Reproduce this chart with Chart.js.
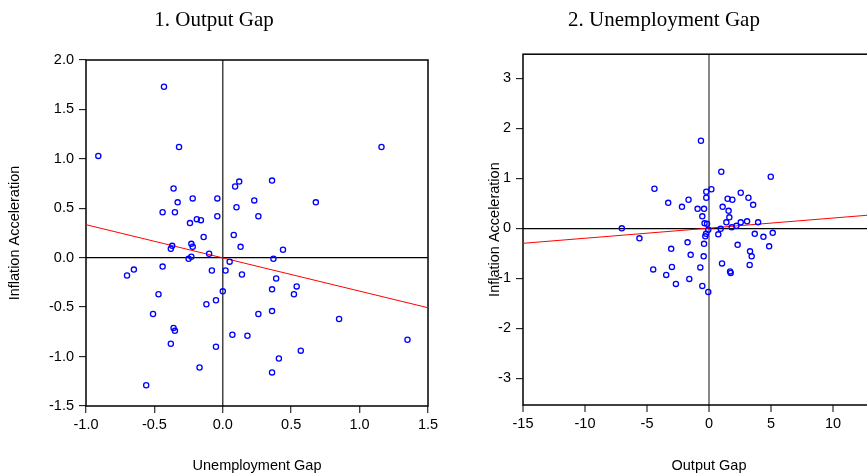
<!DOCTYPE html>
<html>
<head>
<meta charset="utf-8">
<script src="https://cdn.jsdelivr.net/npm/chart.js@4"></script>
<style>
  body { margin: 0; background: #fff; overflow: hidden; width: 867px; height: 476px; position: relative; }
  canvas { position: absolute; top: 0; }
  #left { left: 0; }
  #right { left: 433px; }
</style>
</head>
<body>
<canvas id="left" width="443" height="476"></canvas>
<canvas id="right" width="470" height="476"></canvas>
<script>
// panel 1: unemployment gap vs inflation acceleration
const unempGap = [-0.43, -0.32, -0.91, 1.16, -0.36, 0.12, 0.09, 0.36, -0.33, -0.22, -0.04, 0.23, 0.68, -0.44, -0.35, 0.10,
  -0.19, -0.16, -0.04, 0.26, -0.24, -0.14, 0.08, -0.23, -0.22, -0.37, -0.38, 0.13, 0.44, -0.10, -0.23, -0.25, 0.37, 0.05,
  -0.65, -0.70, -0.44, -0.08, 0.02, 0.14, 0.39, 0.54, 0.36, 0.00, -0.47, 0.52, -0.05, -0.12, -0.51, 0.26, 0.36, 0.85,
  -0.36, -0.35, 0.07, 0.18, 1.35, -0.38, -0.05, 0.57, 0.41, -0.17, 0.36, -0.56];
const inflAccel1 = [1.73, 1.12, 1.03, 1.12, 0.70, 0.77, 0.72, 0.78, 0.56, 0.60, 0.60, 0.58, 0.56, 0.46, 0.46, 0.51,
  0.39, 0.38, 0.42, 0.42, 0.35, 0.21, 0.23, 0.14, 0.11, 0.12, 0.09, 0.11, 0.08, 0.04, 0.01, -0.01, -0.01, -0.04,
  -0.12, -0.18, -0.09, -0.13, -0.13, -0.17, -0.21, -0.29, -0.32, -0.34, -0.37, -0.37, -0.43, -0.47, -0.57, -0.57, -0.54, -0.62,
  -0.71, -0.74, -0.78, -0.79, -0.83, -0.87, -0.90, -0.94, -1.02, -1.11, -1.16, -1.29];
const fit1X = [-1.0, 1.5];
const fit1Y = [0.334, -0.506];

// panel 2: output gap vs inflation acceleration
const outputGap = [-0.65, 0.99, 4.98, -4.40, 0.19, -0.22, -0.22, 2.56, 1.50, 1.88, 3.18, -3.29, -1.65, -2.18, 3.56, -0.92,
  -0.40, 1.10, 1.58, -0.54, 1.64, -0.36, -0.16, 1.40, 2.56, 3.07, 3.96, 2.21, 1.83, 0.94, -7.03, -0.06, -5.61, -0.24,
  -0.30, 0.75, 3.69, 4.39, 5.14, -1.73, -0.40, 2.31, -3.05, 3.31, 4.85, -1.48, -0.43, 3.44, 1.05, 3.28, -4.50, -2.99,
  -0.70, 1.70, 1.75, -3.45, -1.59, -2.67, -0.54, -0.06];
const inflAccel2 = [1.75, 1.13, 1.03, 0.79, 0.78, 0.73, 0.61, 0.71, 0.59, 0.57, 0.61, 0.51, 0.57, 0.43, 0.47, 0.39,
  0.39, 0.43, 0.35, 0.24, 0.22, 0.10, 0.09, 0.12, 0.12, 0.14, 0.12, 0.05, 0.02, -0.01, 0.00, -0.03, -0.20, -0.11,
  -0.16, -0.12, -0.11, -0.17, -0.09, -0.28, -0.31, -0.33, -0.41, -0.46, -0.36, -0.53, -0.56, -0.56, -0.70, -0.73, -0.82, -0.77,
  -0.78, -0.86, -0.89, -0.93, -1.01, -1.11, -1.15, -1.27];
const fit2X = [-15, 15];
const fit2Y = [-0.299, 0.307];

const zip = (xs, ys) => xs.map((x, i) => ({ x: x, y: ys[i] }));

const frame = {
  id: 'frame',
  beforeDatasetsDraw(chart) {
    const a = chart.chartArea, c = chart.ctx;
    c.save();
    c.strokeStyle = '#000';
    c.lineWidth = 1.5;
    c.strokeRect(a.left, a.top, a.right - a.left, a.bottom - a.top);
    c.restore();
  }
};

function makeChart(id, o) {
  const tickFont = { family: 'Liberation Sans, Arial', size: 14.5 };
  const titleFont = { family: 'Liberation Sans, Arial', size: 14.5 };
  return new Chart(document.getElementById(id), {
    type: 'scatter',
    data: {
      datasets: [{
        data: o.points,
        pointStyle: 'circle',
        pointRadius: 2.6,
        pointBorderWidth: 1.3,
        pointBorderColor: '#0000ff',
        pointBackgroundColor: 'rgba(255,255,255,0)',
        pointHoverRadius: 2.6
      }, {
        data: o.fit,
        showLine: true,
        borderColor: '#ff0000',
        borderWidth: 1,
        pointRadius: 0
      }]
    },
    options: {
      responsive: false,
      animation: false,
      events: [],
      layout: { padding: { left: 0, right: o.padRight, top: 0, bottom: 0 } },
      plugins: {
        legend: { display: false },
        tooltip: { enabled: false },
        title: {
          display: true,
          text: o.title,
          color: '#000',
          font: { family: 'Liberation Serif, Times New Roman', size: 21, weight: 'normal' },
          padding: { top: 8, bottom: o.titleGap }
        }
      },
      scales: {
        x: {
          type: 'linear',
          min: o.xMin, max: o.xMax,
          afterFit: s => { s.height = o.xHeight; s.paddingLeft = 0; s.paddingRight = 0; },
          border: { display: false },
          grid: {
            color: c => c.tick && c.tick.value === 0 ? o.vZeroColor : 'rgba(0,0,0,0)',
            lineWidth: o.vZeroWidth,
            tickColor: '#000',
            tickLength: 7,
            tickWidth: 1
          },
          ticks: {
            stepSize: o.xStep,
            includeBounds: false,
            color: '#000',
            font: tickFont,
            padding: 3,
            maxRotation: 0,
            callback: v => o.xFmt(v)
          },
          title: { display: true, text: o.xTitle, color: '#000', font: titleFont, padding: { top: 0, bottom: 1 } }
        },
        y: {
          min: o.yMin, max: o.yMax,
          afterFit: s => { s.width = o.yWidth; s.paddingTop = 0; s.paddingBottom = 0; },
          border: { display: false },
          grid: {
            color: c => c.tick && c.tick.value === 0 ? '#000' : 'rgba(0,0,0,0)',
            lineWidth: 1.3,
            tickColor: '#000',
            tickLength: 7,
            tickWidth: 1
          },
          ticks: {
            stepSize: o.yStep,
            includeBounds: false,
            color: '#000',
            font: tickFont,
            padding: 5,
            callback: v => o.yFmt(v)
          },
          title: { display: true, text: 'Inflation Acceleration', color: '#000', font: titleFont, padding: { top: o.yTitlePad, bottom: 0 } }
        }
      }
    },
    plugins: [frame]
  });
}

makeChart('left', {
  title: '1. Output Gap',
  points: zip(unempGap, inflAccel1),
  fit: zip(fit1X, fit1Y),
  xMin: -1.0, xMax: 1.5, xStep: 0.5, xFmt: v => v.toFixed(1),
  yMin: -1.5, yMax: 2.0, yStep: 0.5, yFmt: v => v.toFixed(1),
  xTitle: 'Unemployment Gap',
  xHeight: 70, yWidth: 86, padRight: 15, titleGap: 26.8, yTitlePad: 6,
  vZeroColor: '#444', vZeroWidth: 1.5
});

makeChart('right', {
  title: '2. Unemployment Gap',
  points: zip(outputGap, inflAccel2),
  fit: zip(fit2X, fit2Y),
  xMin: -15, xMax: 15, xStep: 5, xFmt: v => String(v),
  yMin: -3.53, yMax: 3.48, yStep: 1, yFmt: v => String(v),
  xTitle: 'Output Gap',
  xHeight: 71, yWidth: 90, padRight: 8, titleGap: 21, yTitlePad: 53,
  vZeroColor: '#888', vZeroWidth: 2
});
</script>
</body>
</html>
